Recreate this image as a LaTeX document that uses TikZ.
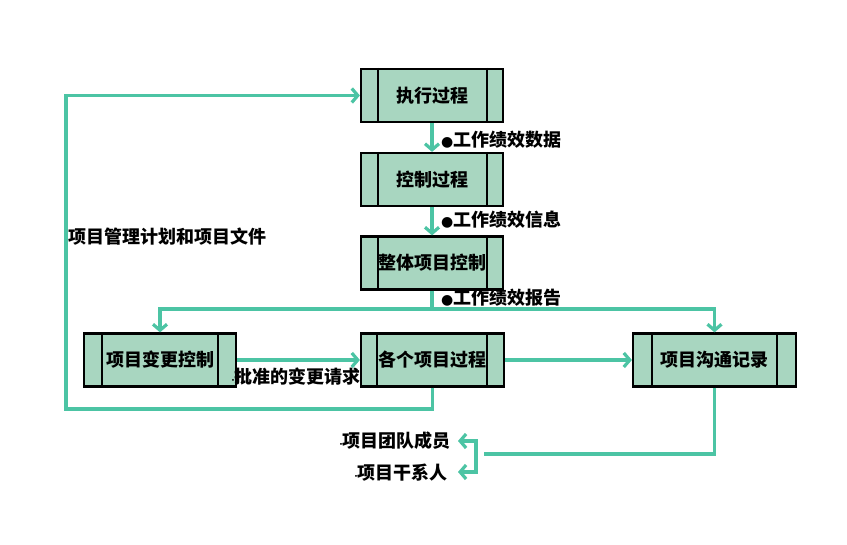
\documentclass[tikz,border=0pt]{standalone}
\usepackage{fontspec}
\usetikzlibrary{arrows.meta}
\newfontfamily\cjk{Noto Sans CJK SC}
\newfontfamily\dejavu{DejaVu Sans}
\definecolor{boxfill}{RGB}{168,214,192}
\definecolor{linecol}{RGB}{76,196,164}
\tikzset{
  every node/.style={font=\cjk\bfseries\fontsize{18}{20}\selectfont, text=black},
  procbox/.style={draw=black, line width=2.2pt, fill=boxfill, minimum height=53pt, inner sep=0pt},
  sideline/.style={draw=black, line width=2.2pt},
  conn/.style={draw=linecol, line width=3.2pt},
  arr/.style={conn, -{Straight Barb[length=6pt,width=14pt]}},
  lbl/.style={inner sep=1pt}
}
\newcommand{\bul}{{\dejavu\fontsize{14}{14}\selectfont ●}}
\newcommand{\tdot}{{\dejavu\fontsize{9}{9}\selectfont ·}}
\begin{document}
\begin{tikzpicture}[x=1pt,y=1pt]
\useasboundingbox (0,0) rectangle (847,545);
\fill[white] (0,0) rectangle (847,545);

% boxes
\node[procbox, minimum width=142pt] (A) at (432,449.5) {执行过程};
\node[procbox, minimum width=142pt] (B) at (432,365.5) {控制过程};
\node[procbox, minimum width=142pt] (C) at (432,282) {整体项目控制};
\node[procbox, minimum width=152pt] (D) at (160,185) {项目变更控制};
\node[procbox, minimum width=143pt] (E) at (432.5,185) {各个项目过程};
\node[procbox, minimum width=163pt] (F) at (714.5,185) {项目沟通记录};

\foreach \n/\a/\b in {A/18/17, B/18/17, C/18/17, D/19/19, E/17/18, F/20/20}{
  \draw[sideline] ([xshift=\a pt]\n.north west) -- ([xshift=\a pt]\n.south west);
  \draw[sideline] ([xshift=-\b pt]\n.north east) -- ([xshift=-\b pt]\n.south east);
}

% coordinates
\coordinate (J) at (432,236);
\coordinate (L1) at (66,136);
\coordinate (K) at (484,91);
\coordinate (M1) at (476,104);
\coordinate (M2) at (476,73);

% connectors
\draw[arr] (A.south) -- (B.north);
\draw[arr] (B.south) -- (C.north);
\draw[conn] (C.south) -- (J);
\draw[arr] (J) -| (D.north);
\draw[arr] (J) -| (F.north);
\draw[arr] (D.east) -- (E.west);
\draw[arr] (E.east) -- (F.west);
\draw[arr] (E.south) |- (L1) |- (A.west);
\draw[conn] (F.south) |- (K);

% labels
\node[lbl, anchor=west] (la) at (440,405) {\bul 工作绩效数据};
\node[lbl, anchor=west] (lb) at (440,325) {\bul 工作绩效信息};
\node[lbl, anchor=west] (lc) at (440,247) {\bul 工作绩效报告};
\node[lbl, anchor=west] (lp) at (67,308) {项目管理计划和项目文件};
\node[lbl, anchor=east] (lq) at (362,168) {\tdot 批准的变更请求};
\node[inner sep=0pt, anchor=east] (G) at (451,104) {\tdot 项目团队成员};
\node[inner sep=0pt, anchor=east] (H) at (448,72) {\tdot 项目干系人};

\draw[conn, {Straight Barb[length=6pt,width=14pt]}-{Straight Barb[length=6pt,width=14pt]}]
  ([xshift=7pt]G.east) -- (M1) -- (M2) -- ([xshift=10pt]H.east |- M2);
\end{tikzpicture}
\end{document}
